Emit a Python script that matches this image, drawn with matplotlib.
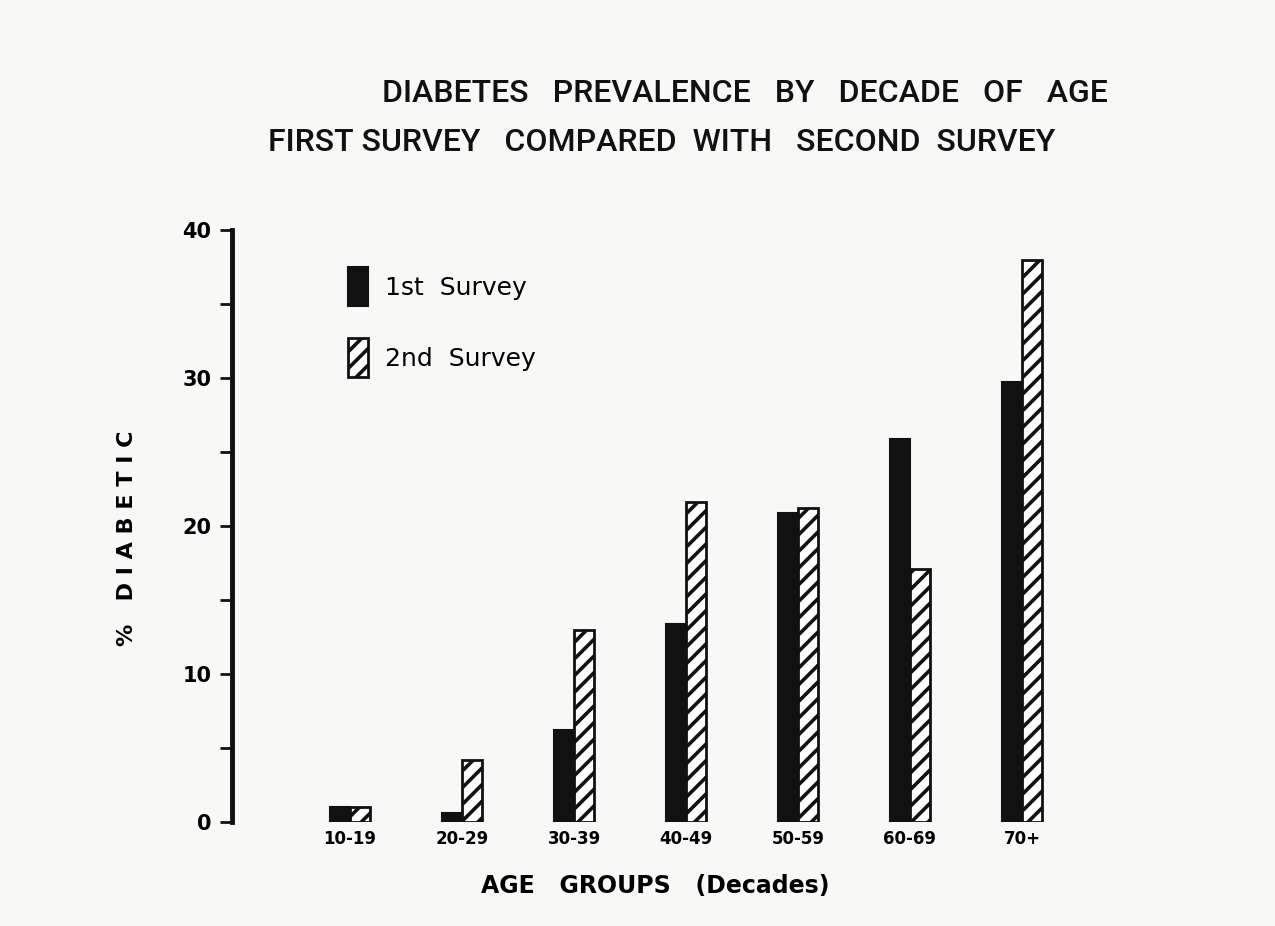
import matplotlib
matplotlib.use('agg')
import matplotlib.pyplot as plt
from matplotlib.ticker import MultipleLocator
import numpy as np

# data
age_groups = ['10-19', '20-29', '30-39', '40-49', '50-59', '60-69', '70+']
first_survey = [1.0, 0.6, 6.2, 13.4, 20.9, 25.9, 29.7]
second_survey = [1.0, 4.2, 13.0, 21.6, 21.2, 17.1, 38.0]

plt.rcParams['font.family'] = ['DejaVu Sans']
plt.rcParams['hatch.linewidth'] = 2.6

fig = plt.figure(figsize=(12.75, 9.26), dpi=100, facecolor='#f8f8f6')
ax = fig.add_axes([0.182, 0.1123, 0.681, 0.6393])
ax.set_facecolor('none')

x = np.arange(len(age_groups))
w = 0.18
ax.bar(x - w / 2, first_survey, w, color='#111111', edgecolor='#111111', linewidth=1.5,
       label='1st  Survey')
ax.bar(x + w / 2, second_survey, w, color='white', edgecolor='#111111', linewidth=2,
       hatch='//', label='2nd  Survey')

ax.set_xlim(-1.054, 6.70)
ax.set_ylim(0, 40)

for s in ['top', 'right', 'bottom']:
    ax.spines[s].set_visible(False)
ax.spines['left'].set_linewidth(3.5)
ax.spines['left'].set_color('#111111')

ax.yaxis.set_major_locator(MultipleLocator(10))
ax.yaxis.set_minor_locator(MultipleLocator(5))
ax.tick_params(axis='y', which='both', direction='out', length=9, width=2, color='#111111')
ax.tick_params(axis='y', which='major', labelsize=15, pad=6)
for t in ax.get_yticklabels():
    t.set_fontweight('bold')

ax.set_xticks(x)
ax.set_xticklabels(age_groups, fontsize=12, fontweight='bold')
ax.tick_params(axis='x', length=0, pad=6)

ax.set_xlabel('AGE   GROUPS   (Decades)', fontsize=17, fontweight='bold')
ax.xaxis.set_label_coords(0.487, -0.088)
ax.set_ylabel('%   D I A B E T I C', fontsize=16, fontweight='bold')
ax.yaxis.set_label_coords(-0.110, 0.48)

title_font = ['Roboto', 'DejaVu Sans']
fig.text(0.2996, 0.8985, 'DIABETES   PREVALENCE   BY   DECADE   OF   AGE',
         fontsize=23, fontweight='medium', ha='left', va='center', color='#111111',
         family=title_font)
fig.text(0.210, 0.8456, 'FIRST SURVEY   COMPARED  WITH   SECOND  SURVEY',
         fontsize=23, fontweight='medium', ha='left', va='center', color='#111111',
         family=title_font)

leg = ax.legend(loc='upper left', bbox_to_anchor=(0.1075, 0.975), frameon=False,
                handlelength=0.8, handleheight=2.0,
                labelspacing=1.3, handletextpad=0.7,
                prop={'size': 18})

fig.savefig('out.png', dpi=100, facecolor=fig.get_facecolor())
